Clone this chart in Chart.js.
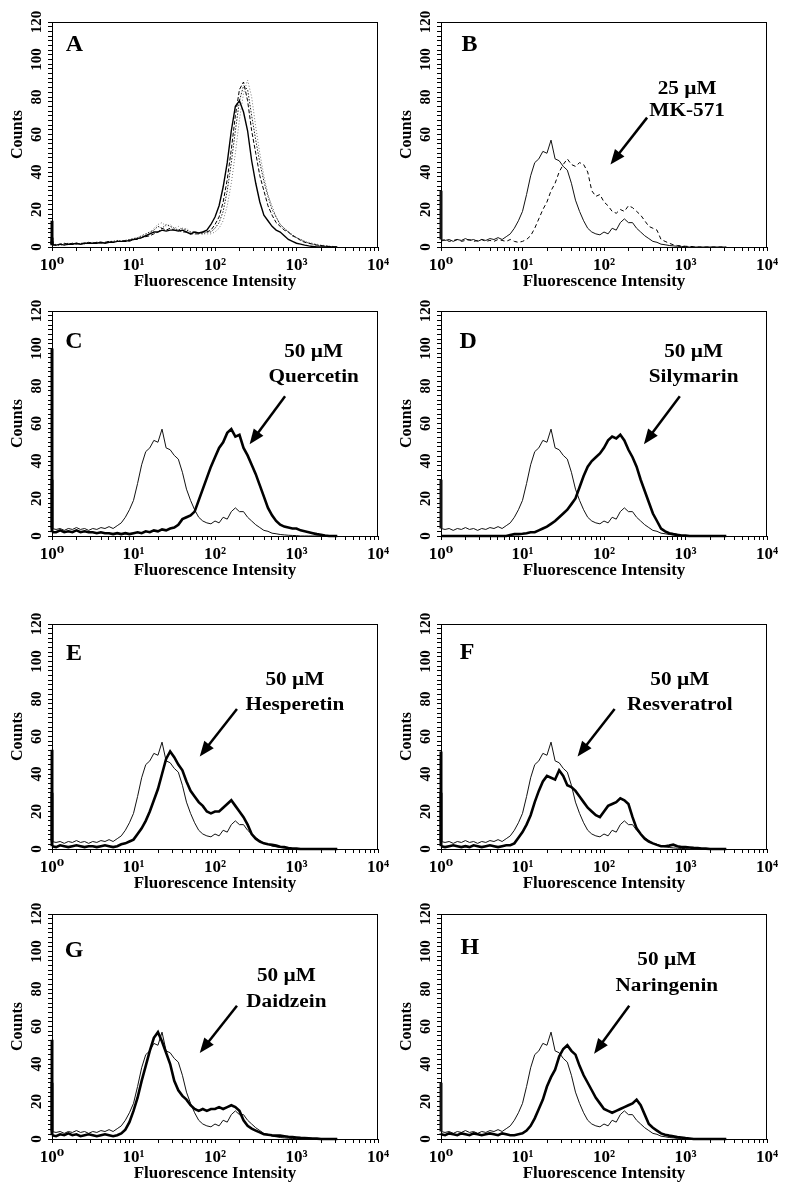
<!DOCTYPE html>
<html>
<head>
<meta charset="utf-8">
<script src="https://cdn.jsdelivr.net/npm/chart.js@4.4.1/dist/chart.umd.min.js"></script>
<style>
  body { margin: 0; background: #fff; width: 800px; height: 1199px; position: relative; overflow: hidden; }
  canvas { position: absolute; }
</style>
</head>
<body>
<canvas id="pA" width="400" height="295" style="left:0;top:2px"></canvas>
<canvas id="pB" width="400" height="295" style="left:389px;top:2px"></canvas>
<canvas id="pC" width="400" height="295" style="left:0;top:291px"></canvas>
<canvas id="pD" width="400" height="295" style="left:389px;top:291px"></canvas>
<canvas id="pE" width="400" height="295" style="left:0;top:604px"></canvas>
<canvas id="pF" width="400" height="295" style="left:389px;top:604px"></canvas>
<canvas id="pG" width="400" height="295" style="left:0;top:894px"></canvas>
<canvas id="pH" width="400" height="295" style="left:389px;top:894px"></canvas>
<script>
// fluorescence channels (log scale, 1/20 decade); the first point is the pile-up in channel 1
const fluor = [1, 1, 1.122, 1.259, 1.413, 1.585, 1.778, 1.995, 2.239, 2.512, 2.818, 3.162, 3.548, 3.981, 4.467, 5.012, 5.623, 6.310, 7.079, 7.943, 8.913, 10,
  11.22, 12.59, 14.13, 15.85, 17.78, 19.95, 22.39, 25.12, 28.18, 31.62, 35.48, 39.81, 44.67, 50.12, 56.23, 63.10, 70.79, 79.43, 89.13, 100,
  112.2, 125.9, 141.3, 158.5, 177.8, 199.5, 223.9, 251.2, 281.8, 316.2, 354.8, 398.1, 446.7, 501.2, 562.3, 631.0, 707.9, 794.3, 891.3, 1000,
  1122, 1259, 1413, 1585, 1778, 1995, 2239, 2512, 2818, 3162];

// control cells (thin line in B-H)
const control = [30, 4, 3.5, 4, 3, 4, 3.5, 4.5, 3.5, 4, 3,
  4, 3.5, 4.5, 4, 5, 4, 5.5, 7, 10, 14,
  19, 28, 38, 45, 47, 51, 50, 57, 47, 46,
  43, 41, 34, 25, 19, 14, 10, 8, 7, 6.5,
  8, 7, 10, 9, 13, 15, 13, 13, 10, 8,
  6, 4.5, 3, 2.5, 1.5, 1.2, 0.8, 0.6, 0.4, 0.3,
  0.2, 0, 0, 0, 0, 0, 0, 0, 0, 0, 0];

// panel A overlays
const aSolid = [14, 1, 1, 1.5, 1, 1.5, 1.5, 2, 1.5, 2, 2,
  2, 2, 2.5, 2, 2.5, 2.5, 3, 3, 3, 3.5,
  4, 4.5, 5, 6, 7, 8, 8, 9, 8.5, 9,
  9, 8.5, 9, 8, 7, 8, 7.5, 8, 9, 12,
  16, 22, 32, 45, 62, 75, 78, 72, 62, 46,
  34, 24, 17, 14, 11, 9, 8, 6, 4, 3,
  2, 1.5, 1, 0.6, 0.3, 0, 0, 0, 0, 0, 0];
const aDashed = [5, 1.5, 1, 1.5, 2, 1.5, 2, 1.5, 2, 2, 2.5,
  2, 2.5, 2, 2.5, 3, 2.5, 3, 3, 3.5, 3,
  4, 4, 5, 5.5, 6, 7, 8, 10, 9, 10,
  9, 9, 8, 8, 7, 7, 7, 8, 8, 9,
  12, 16, 24, 36, 52, 70, 84, 88, 78, 62,
  50, 38, 30, 22, 17, 13, 11, 9, 8, 6,
  5, 3.5, 2.5, 2, 1.5, 1, 0.8, 0.5, 0.3, 0, 0];
const aDotted = [3, 1.5, 1, 1, 1.5, 2, 1.5, 2, 1.5, 2, 2,
  2, 2.5, 2.5, 2, 3, 3, 3.5, 3, 3.5, 4,
  4.5, 5, 6, 7, 8, 9, 11, 10, 12, 11,
  10, 9, 10, 9, 8, 8, 7.5, 7, 8, 8,
  10, 13, 19, 30, 45, 62, 78, 86, 84, 70,
  57, 45, 35, 27, 20, 16, 12, 10, 8, 6.5,
  5, 4, 3, 2, 1.5, 1, 0.7, 0.5, 0.3, 0, 0];
const aGrey = [3, 1, 1.5, 1, 1.5, 1, 2, 1.5, 2, 1.5, 2,
  2.5, 2, 2, 2.5, 3, 2.5, 3, 3.5, 3, 4,
  4, 5, 5.5, 6, 7, 10, 12, 13, 11, 12,
  10, 11, 9, 10, 8, 8, 7, 7, 7, 7,
  8, 10, 14, 22, 34, 50, 68, 82, 89, 80,
  64, 50, 38, 28, 22, 16, 12, 10, 8, 6,
  5, 4, 3, 2.5, 2, 1.5, 1, 0.8, 0.5, 0.3, 0];

const mk571 = [3, 3, 4, 3, 3.5, 4, 3, 3.5, 4, 3, 3.5,
  4, 3, 3.5, 3, 4, 3.5, 3, 4, 3, 2.5,
  3, 4, 6, 10, 15, 20, 24, 30, 34, 40,
  44, 47, 44, 43, 45, 44, 40, 30, 27, 28,
  24, 22, 19, 18, 20, 19, 22, 21, 19, 17,
  14, 11, 10, 9, 4, 3, 2, 1.2, 0.8, 0.6,
  0.4, 0.3, 0.2, 0, 0, 0, 0, 0, 0, 0, 0];
const quercetin = [100, 2, 2, 3, 2, 2.5, 2, 3, 2, 2.5, 2,
  2, 1.5, 2, 1.5, 1.5, 1, 1.5, 1, 1.5, 1,
  1.5, 2, 1.5, 2.5, 2, 3, 2.5, 3.5, 3, 4,
  4.5, 6, 9, 10, 11, 13, 19, 25, 31, 37,
  42, 47, 50, 55, 57, 53, 54, 47, 43, 38,
  33, 27, 21, 15, 11, 8, 6, 5, 4.5, 4,
  4, 3, 2.5, 2, 1.5, 1, 0.7, 0.3, 0, 0, 0];
const silymarin = [0, 0, 0, 0, 0, 0, 0, 0, 0, 0, 0,
  0, 0, 0, 0, 0, 0, 0, 0.5, 1, 1,
  1.2, 1.5, 2, 2, 3, 4, 5, 6.5, 8, 10,
  12, 14, 17, 20, 26, 32, 37, 40, 42, 44,
  47, 51, 53, 52, 54, 51, 46, 42, 37, 30,
  24, 18, 12, 8, 4, 2.5, 1.5, 1, 0.6, 0.3,
  0.2, 0, 0, 0, 0, 0, 0, 0, 0, 0, 0];
const hesperetin = [53, 1.5, 1, 2, 1.5, 1, 1.5, 2, 1.5, 1, 1.5,
  1.5, 1, 1.5, 2, 1.5, 1, 1.5, 2.5, 3, 4,
  5, 8, 11, 15, 20, 26, 32, 40, 48, 52,
  49, 45, 42, 36, 31, 28, 25, 23, 20, 19,
  20, 20, 22, 24, 26, 23, 20, 17, 13, 8,
  5.5, 4, 3, 2.5, 2.3, 1.8, 1.2, 1, 0.5, 0.3,
  0.2, 0, 0, 0, 0, 0, 0, 0, 0, 0, 0];
const resveratrol = [52, 1.5, 1, 1.5, 2, 1.5, 1, 1.5, 1, 2, 1.5,
  1, 1.5, 2, 1.5, 1, 1.5, 2, 2, 3, 6,
  9, 13, 18, 25, 31, 36, 39, 38, 37, 42,
  39, 34, 33, 31, 28, 25, 22, 20, 18, 17,
  20, 23, 24, 25, 27, 26, 24, 17, 11, 8,
  5.5, 4, 3, 2.2, 1.5, 1.5, 1.8, 2.3, 1.5, 1,
  1, 0.8, 0.6, 0.5, 0.3, 0.2, 0, 0, 0, 0, 0];
const daidzein = [53, 2, 1.5, 2.5, 2, 3, 2, 2.5, 1.5, 2, 2.5,
  2, 1.5, 2, 2.5, 2, 1.5, 2, 3, 5, 9,
  15, 22, 31, 39, 47, 54, 57, 52, 46, 40,
  31, 26, 23, 21, 18, 16, 15, 16, 15, 16,
  16, 17, 16, 17, 18, 17, 15, 10, 7, 5.5,
  4.5, 3.5, 2.5, 2.3, 2, 1.8, 1.8, 1.5, 1.2, 1,
  0.8, 0.6, 0.5, 0.4, 0.3, 0.2, 0, 0, 0, 0, 0];
const naringenin = [3, 2.5, 2, 3, 2.5, 2, 3, 2.5, 2, 3, 2.5,
  2, 2.5, 3, 2.5, 2, 3, 2.5, 2, 2, 2.5,
  3, 4.5, 7, 11, 16, 21, 28, 33, 37, 44,
  48, 50, 47, 45, 39, 34, 30, 26, 22, 19,
  16, 15, 14, 15, 16, 17, 18, 19, 21, 18,
  13, 8, 6, 4.5, 3, 2.3, 1.8, 1.4, 1, 0.8,
  0.5, 0.3, 0, 0, 0, 0, 0, 0, 0, 0, 0];

const yTicks = [0, 20, 40, 60, 80, 100, 120];
const sup = ['\u2070', '\u00b9', '\u00b2', '\u00b3', '\u2074'];
const serif = '"Liberation Serif", "DejaVu Serif", serif';

const thin = { color: '#111', width: 1 };
const thick = { color: '#000', width: 2.6 };

const panels = [
  { id: 'pA', letter: 'A', letterAt: [1.88, 108],
    series: [
      { counts: aSolid, color: '#000', width: 1.4 },
      { counts: aDashed, color: '#000', width: 1, dash: [4, 2] },
      { counts: aDotted, color: '#222', width: 1, dash: [1.5, 1.5] },
      { counts: aGrey, color: '#777', width: 1, dash: [1, 2] }
    ] },
  { id: 'pB', letter: 'B', letterAt: [2.24, 108],
    note: ['25 \u00b5M', 'MK-571'], noteX: 1047, noteY: [84, 72.5], arrow: [338, 69, 120, 44],
    series: [
      { counts: mk571, color: '#000', width: 1, dash: [4, 3] },
      { counts: control, ...thin }
    ] },
  { id: 'pC', letter: 'C', letterAt: [1.86, 103.5],
    note: ['50 \u00b5M', 'Quercetin'], noteX: 1622, noteY: [98, 84.5], arrow: [724, 74.5, 266, 49],
    series: [{ counts: quercetin, ...thick }, { counts: control, ...thin }] },
  { id: 'pD', letter: 'D', letterAt: [2.16, 103.5],
    note: ['50 \u00b5M', 'Silymarin'], noteX: 1259, noteY: [98, 84.8], arrow: [851, 74.5, 309, 49],
    series: [{ counts: silymarin, ...thick }, { counts: control, ...thin }] },
  { id: 'pE', letter: 'E', letterAt: [1.86, 104],
    note: ['50 \u00b5M', 'Hesperetin'], noteX: 955, noteY: [90, 76.4], arrow: [186, 74.7, 65, 49.4],
    series: [{ counts: hesperetin, ...thick }, { counts: control, ...thin }] },
  { id: 'pF', letter: 'F', letterAt: [2.09, 104.5],
    note: ['50 \u00b5M', 'Resveratrol'], noteX: 851, noteY: [90, 76.4], arrow: [135, 74.7, 47.4, 49.4],
    series: [{ counts: resveratrol, ...thick }, { counts: control, ...thin }] },
  { id: 'pG', letter: 'G', letterAt: [1.86, 100.6],
    note: ['50 \u00b5M', 'Daidzein'], noteX: 750, noteY: [86.8, 72.9], arrow: [186, 71.1, 65, 45.9],
    series: [{ counts: daidzein, ...thick }, { counts: control, ...thin }] },
  { id: 'pH', letter: 'H', letterAt: [2.26, 101.9],
    note: ['50 \u00b5M', 'Naringenin'], noteX: 589, noteY: [95.3, 81.4], arrow: [204, 71.1, 75.6, 45.5],
    series: [{ counts: naringenin, ...thick }, { counts: control, ...thin }] }
];

// frame, panel letter, compound label and arrow
const panelDecor = {
  id: 'panelDecor',
  beforeDatasetsDraw(chart) {
    const { ctx, chartArea: a } = chart;
    ctx.save();
    ctx.strokeStyle = '#000';
    ctx.lineWidth = 1;
    ctx.strokeRect(a.left + 0.5, a.top + 0.5, a.right - a.left - 1, a.bottom - a.top);
    ctx.restore();
  },
  afterDraw(chart, args, o) {
    const { ctx, scales: { x, y } } = chart;
    ctx.save();
    ctx.fillStyle = '#000';
    ctx.strokeStyle = '#000';
    ctx.textAlign = 'center';
    ctx.textBaseline = 'middle';
    ctx.font = 'bold 24px ' + serif;
    ctx.fillText(o.letter, x.getPixelForValue(o.letterAt[0]), y.getPixelForValue(o.letterAt[1]));
    if (o.note) {
      ctx.font = 'bold 18px ' + serif;
      o.note.forEach((t, i) => {
        ctx.save();
        ctx.translate(x.getPixelForValue(o.noteX), y.getPixelForValue(o.noteY[i]));
        ctx.scale(1.18, 1);
        ctx.fillText(t, 0, 0);
        ctx.restore();
      });
      const x1 = x.getPixelForValue(o.arrow[0]), y1 = y.getPixelForValue(o.arrow[1]);
      const x2 = x.getPixelForValue(o.arrow[2]), y2 = y.getPixelForValue(o.arrow[3]);
      const ang = Math.atan2(y2 - y1, x2 - x1);
      const head = 15, half = 6;
      const c = Math.cos(ang), s = Math.sin(ang);
      ctx.lineWidth = 2.5;
      ctx.beginPath();
      ctx.moveTo(x1, y1);
      ctx.lineTo(x2 - head * 0.8 * c, y2 - head * 0.8 * s);
      ctx.stroke();
      ctx.beginPath();
      ctx.moveTo(x2, y2);
      ctx.lineTo(x2 - head * c + half * s, y2 - head * s - half * c);
      ctx.lineTo(x2 - head * c - half * s, y2 - head * s + half * c);
      ctx.closePath();
      ctx.fill();
    }
    ctx.restore();
  }
};

function xLabel(v) {
  const e = Math.round(Math.log10(v));
  return Math.abs(Math.log10(v) - e) < 1e-6 ? '10' + sup[e] : '';
}

panels.forEach(p => {
  new Chart(document.getElementById(p.id), {
    type: 'line',
    data: {
      datasets: p.series.map(s => ({
        data: fluor.map((f, i) => ({ x: f, y: s.counts[i] })),
        borderColor: s.color,
        borderWidth: s.width,
        borderDash: s.dash || [],
        // the channel-1 pile-up is drawn as a heavy bar on the left edge
        segment: { borderWidth: c => (c.p0DataIndex === 0 ? 3 : undefined), borderDash: c => (c.p0DataIndex === 0 ? [] : undefined) },
        clip: 3,
        pointRadius: 0,
        tension: 0,
        fill: false
      }))
    },
    options: {
      responsive: false,
      animation: false,
      events: [],
      layout: { padding: { top: 20, right: 22, left: 0, bottom: 0 } },
      scales: {
        x: {
          type: 'logarithmic',
          min: 1,
          max: 10000,
          afterBuildTicks: s => {
            s.ticks = s.ticks.filter(t => {
              const m = t.value / Math.pow(10, Math.floor(Math.log10(t.value) + 1e-9));
              return Math.abs(m - Math.round(m)) < 1e-6;
            });
          },
          afterFit: s => { s.height = 50; },
          border: { display: true, color: '#000', width: 1 },
          grid: { drawOnChartArea: false, drawTicks: true, tickLength: 4, color: '#000' },
          ticks: {
            autoSkip: false, maxRotation: 0, padding: 4, color: '#000',
            font: { family: serif, size: 17, weight: 'bold' },
            callback: v => xLabel(v)
          },
          title: {
            display: true, text: 'Fluorescence Intensity', color: '#000',
            font: { family: serif, size: 17, weight: 'bold' },
            padding: { top: 0, bottom: 5 }
          }
        },
        y: {
          min: 0,
          max: 120,
          afterFit: s => { s.width = 52; },
          border: { display: true, color: '#000', width: 1 },
          grid: { drawOnChartArea: false, drawTicks: true, tickLength: 4, color: '#000' },
          ticks: {
            stepSize: 2.5, autoSkip: false, minRotation: 90, maxRotation: 90,
            crossAlign: 'center', padding: 0, color: '#000',
            font: { family: serif, size: 15, weight: 'bold' },
            callback: v => (yTicks.includes(v) ? String(v) : '')
          },
          title: {
            display: true, text: 'Counts', color: '#000',
            font: { family: serif, size: 16, weight: 'bold' },
            padding: { top: 8.5, bottom: 0 }
          }
        }
      },
      plugins: {
        legend: { display: false },
        tooltip: { enabled: false },
        panelDecor: p
      }
    },
    plugins: [panelDecor]
  });
});
</script>
</body>
</html>
